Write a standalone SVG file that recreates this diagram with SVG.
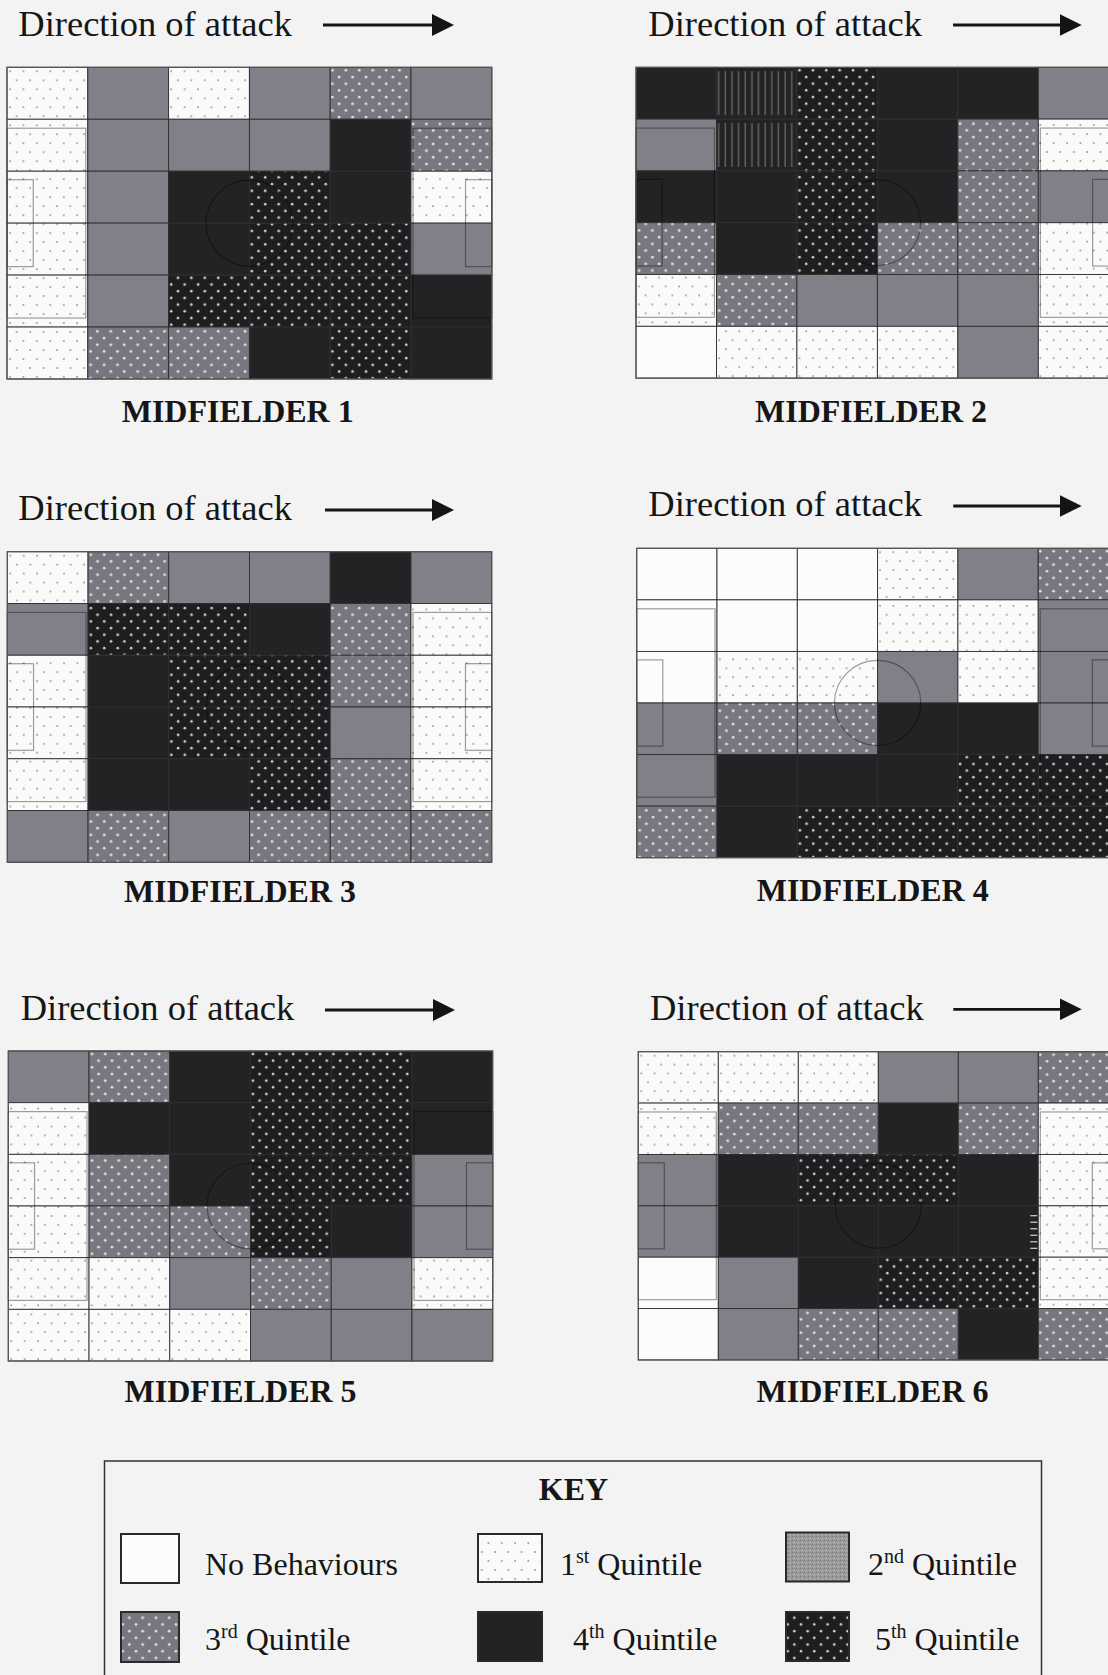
<svg xmlns="http://www.w3.org/2000/svg" width="1108" height="1675" viewBox="0 0 1108 1675">
  <defs>
    <style>
      .title { font-family: "Liberation Serif", "Times New Roman", serif; font-size: 36.5px; fill: #161616; }
      .label { font-family: "Liberation Serif", "Times New Roman", serif; font-size: 32px; font-weight: bold; fill: #161616; }
      .keytxt { font-family: "Liberation Serif", "Times New Roman", serif; font-size: 32px; fill: #161616; }
      .c { stroke: #2e2e2e; stroke-width: 0.9; }
      .n { fill: #fcfcfc; }
      .q1 { fill: url(#p1); }
      .q2 { fill: #808088; }
      .q3 { fill: url(#p3); }
      .q4 { fill: #232325; }
      .q5 { fill: url(#p5); }
      .q5s { fill: url(#p5s); }
      .mk { fill: none; stroke: #000; stroke-opacity: 0.38; stroke-width: 1.2; }
      .edge { fill: none; stroke: #555; stroke-width: 1.2; }
      .arrow { stroke: #141414; stroke-width: 2.8; fill: none; marker-end: url(#head); }
      .sw { stroke: #2a2a2a; stroke-width: 2; }
    </style>
    <!-- 1st quintile: sparse grey dots on white -->
    <pattern id="p1" width="13.3" height="18" patternUnits="userSpaceOnUse">
      <rect width="13.3" height="18" fill="#fafafa"/>
      <circle cx="3" cy="4" r="0.9" fill="#959595"/>
      <circle cx="9.65" cy="13" r="0.9" fill="#959595"/>
    </pattern>
    <!-- 3rd quintile: white dots on grey -->
    <pattern id="p3" width="13.3" height="13.4" patternUnits="userSpaceOnUse">
      <rect width="13.3" height="13.4" fill="#77777f"/>
      <circle cx="3" cy="3" r="1.35" fill="#e2e2e6"/>
      <circle cx="9.65" cy="9.7" r="1.35" fill="#e2e2e6"/>
    </pattern>
    <!-- 5th quintile: white dots on black -->
    <pattern id="p5" width="13.3" height="13.4" patternUnits="userSpaceOnUse">
      <rect width="13.3" height="13.4" fill="#1e1e20"/>
      <circle cx="3" cy="3" r="1.3" fill="#d2d2d2"/>
      <circle cx="9.65" cy="9.7" r="1.3" fill="#d2d2d2"/>
    </pattern>
    <!-- 5th quintile printed with vertical streaks -->
    <pattern id="p5s" width="6.6" height="52" patternUnits="userSpaceOnUse">
      <rect width="6.6" height="52" fill="#232325"/>
      <rect x="2.5" y="4" width="1" height="44" fill="#9a9a9a" opacity="0.75"/>
    </pattern>
    <!-- 2nd quintile key swatch: fine grey grain -->
    <pattern id="p2k" width="4" height="4" patternUnits="userSpaceOnUse">
      <rect width="4" height="4" fill="#9c9c9c"/>
      <rect x="0" y="0" width="1" height="1" fill="#6e6e6e"/>
      <rect x="2" y="2" width="1" height="1" fill="#c4c4c4"/>
      <rect x="3" y="1" width="1" height="1" fill="#808080"/>
    </pattern>
    <linearGradient id="streak" x1="0" y1="0" x2="1" y2="0">
      <stop offset="0" stop-color="#ffffff" stop-opacity="0"/>
      <stop offset="1" stop-color="#e6e6e6" stop-opacity="0.9"/>
    </linearGradient>
    <marker id="head" viewBox="0 0 22 22" refX="10" refY="11" markerWidth="22" markerHeight="22" markerUnits="userSpaceOnUse" orient="auto">
      <path d="M0,0 L22,11 L0,22 z" fill="#141414"/>
    </marker>
    <!-- pitch lines: penalty areas, goal areas, centre circle -->
    <g id="lines">
      <rect x="0" y="61" width="78" height="190"/>
      <rect x="0" y="112.5" width="26" height="87"/>
      <rect x="402" y="61" width="78" height="190"/>
      <rect x="454" y="112.5" width="26" height="87"/>
      <circle cx="240" cy="156" r="43"/>
    </g>
  </defs>

  <rect width="1108" height="1675" fill="#f3f3f3"/>

  <!-- Midfielder 1 -->
  <g id="midfielder-1">
    <text class="title" x="18.3" y="36">Direction of attack</text>
    <g transform="translate(7,67.3) scale(1.01,0.999)">
      <rect class="c q1" x="0" y="0" width="80" height="52"/>
      <rect class="c q2" x="80" y="0" width="80" height="52"/>
      <rect class="c q1" x="160" y="0" width="80" height="52"/>
      <rect class="c q2" x="240" y="0" width="80" height="52"/>
      <rect class="c q3" x="320" y="0" width="80" height="52"/>
      <rect class="c q2" x="400" y="0" width="80" height="52"/>
      <rect class="c q1" x="0" y="52" width="80" height="52"/>
      <rect class="c q2" x="80" y="52" width="80" height="52"/>
      <rect class="c q2" x="160" y="52" width="80" height="52"/>
      <rect class="c q2" x="240" y="52" width="80" height="52"/>
      <rect class="c q4" x="320" y="52" width="80" height="52"/>
      <rect class="c q3" x="400" y="52" width="80" height="52"/>
      <rect class="c q1" x="0" y="104" width="80" height="52"/>
      <rect class="c q2" x="80" y="104" width="80" height="52"/>
      <rect class="c q4" x="160" y="104" width="80" height="52"/>
      <rect class="c q5" x="240" y="104" width="80" height="52"/>
      <rect class="c q4" x="320" y="104" width="80" height="52"/>
      <rect class="c q1" x="400" y="104" width="80" height="52"/>
      <rect class="c q1" x="0" y="156" width="80" height="52"/>
      <rect class="c q2" x="80" y="156" width="80" height="52"/>
      <rect class="c q4" x="160" y="156" width="80" height="52"/>
      <rect class="c q5" x="240" y="156" width="80" height="52"/>
      <rect class="c q5" x="320" y="156" width="80" height="52"/>
      <rect class="c q2" x="400" y="156" width="80" height="52"/>
      <rect class="c q1" x="0" y="208" width="80" height="52"/>
      <rect class="c q2" x="80" y="208" width="80" height="52"/>
      <rect class="c q5" x="160" y="208" width="80" height="52"/>
      <rect class="c q5" x="240" y="208" width="80" height="52"/>
      <rect class="c q5" x="320" y="208" width="80" height="52"/>
      <rect class="c q4" x="400" y="208" width="80" height="52"/>
      <rect class="c q1" x="0" y="260" width="80" height="52"/>
      <rect class="c q3" x="80" y="260" width="80" height="52"/>
      <rect class="c q3" x="160" y="260" width="80" height="52"/>
      <rect class="c q4" x="240" y="260" width="80" height="52"/>
      <rect class="c q5" x="320" y="260" width="80" height="52"/>
      <rect class="c q4" x="400" y="260" width="80" height="52"/>
      <use href="#lines" class="mk"/>
      <rect class="edge" x="0" y="0" width="480" height="312"/>
    </g>
    <text class="label" x="121.7" y="421.7">MIDFIELDER 1</text>
  </g>

  <!-- Midfielder 2 -->
  <g id="midfielder-2">
    <text class="title" x="648.3" y="36">Direction of attack</text>
    <g transform="translate(636,67.3) scale(1.0058,0.9962)">
      <rect class="c q4" x="0" y="0" width="80" height="52"/>
      <rect class="c q5s" x="80" y="0" width="80" height="52"/>
      <rect class="c q5" x="160" y="0" width="80" height="52"/>
      <rect class="c q4" x="240" y="0" width="80" height="52"/>
      <rect class="c q4" x="320" y="0" width="80" height="52"/>
      <rect class="c q2" x="400" y="0" width="80" height="52"/>
      <rect class="c q2" x="0" y="52" width="80" height="52"/>
      <rect class="c q5s" x="80" y="52" width="80" height="52"/>
      <rect class="c q5" x="160" y="52" width="80" height="52"/>
      <rect class="c q4" x="240" y="52" width="80" height="52"/>
      <rect class="c q3" x="320" y="52" width="80" height="52"/>
      <rect class="c q1" x="400" y="52" width="80" height="52"/>
      <rect class="c q4" x="0" y="104" width="80" height="52"/>
      <rect class="c q4" x="80" y="104" width="80" height="52"/>
      <rect class="c q5" x="160" y="104" width="80" height="52"/>
      <rect class="c q4" x="240" y="104" width="80" height="52"/>
      <rect class="c q3" x="320" y="104" width="80" height="52"/>
      <rect class="c q2" x="400" y="104" width="80" height="52"/>
      <rect class="c q3" x="0" y="156" width="80" height="52"/>
      <rect class="c q4" x="80" y="156" width="80" height="52"/>
      <rect class="c q5" x="160" y="156" width="80" height="52"/>
      <rect class="c q3" x="240" y="156" width="80" height="52"/>
      <rect class="c q3" x="320" y="156" width="80" height="52"/>
      <rect class="c q1" x="400" y="156" width="80" height="52"/>
      <rect class="c q1" x="0" y="208" width="80" height="52"/>
      <rect class="c q3" x="80" y="208" width="80" height="52"/>
      <rect class="c q2" x="160" y="208" width="80" height="52"/>
      <rect class="c q2" x="240" y="208" width="80" height="52"/>
      <rect class="c q2" x="320" y="208" width="80" height="52"/>
      <rect class="c q1" x="400" y="208" width="80" height="52"/>
      <rect class="c n" x="0" y="260" width="80" height="52"/>
      <rect class="c q1" x="80" y="260" width="80" height="52"/>
      <rect class="c q1" x="160" y="260" width="80" height="52"/>
      <rect class="c q1" x="240" y="260" width="80" height="52"/>
      <rect class="c q2" x="320" y="260" width="80" height="52"/>
      <rect class="c q1" x="400" y="260" width="80" height="52"/>
      <use href="#lines" class="mk"/>
      <rect class="edge" x="0" y="0" width="480" height="312"/>
    </g>
    <text class="label" x="755" y="421.7">MIDFIELDER 2</text>
  </g>

  <!-- Midfielder 3 -->
  <g id="midfielder-3">
    <text class="title" x="18.3" y="519.5">Direction of attack</text>
    <g transform="translate(7.3,551.7) scale(1.0092,0.9955)">
      <rect class="c q1" x="0" y="0" width="80" height="52"/>
      <rect class="c q3" x="80" y="0" width="80" height="52"/>
      <rect class="c q2" x="160" y="0" width="80" height="52"/>
      <rect class="c q2" x="240" y="0" width="80" height="52"/>
      <rect class="c q4" x="320" y="0" width="80" height="52"/>
      <rect class="c q2" x="400" y="0" width="80" height="52"/>
      <rect class="c q2" x="0" y="52" width="80" height="52"/>
      <rect class="c q5" x="80" y="52" width="80" height="52"/>
      <rect class="c q5" x="160" y="52" width="80" height="52"/>
      <rect class="c q4" x="240" y="52" width="80" height="52"/>
      <rect class="c q3" x="320" y="52" width="80" height="52"/>
      <rect class="c q1" x="400" y="52" width="80" height="52"/>
      <rect class="c q1" x="0" y="104" width="80" height="52"/>
      <rect class="c q4" x="80" y="104" width="80" height="52"/>
      <rect class="c q5" x="160" y="104" width="80" height="52"/>
      <rect class="c q5" x="240" y="104" width="80" height="52"/>
      <rect class="c q3" x="320" y="104" width="80" height="52"/>
      <rect class="c q1" x="400" y="104" width="80" height="52"/>
      <rect class="c q1" x="0" y="156" width="80" height="52"/>
      <rect class="c q4" x="80" y="156" width="80" height="52"/>
      <rect class="c q5" x="160" y="156" width="80" height="52"/>
      <rect class="c q5" x="240" y="156" width="80" height="52"/>
      <rect class="c q2" x="320" y="156" width="80" height="52"/>
      <rect class="c q1" x="400" y="156" width="80" height="52"/>
      <rect class="c q1" x="0" y="208" width="80" height="52"/>
      <rect class="c q4" x="80" y="208" width="80" height="52"/>
      <rect class="c q4" x="160" y="208" width="80" height="52"/>
      <rect class="c q5" x="240" y="208" width="80" height="52"/>
      <rect class="c q3" x="320" y="208" width="80" height="52"/>
      <rect class="c q1" x="400" y="208" width="80" height="52"/>
      <rect class="c q2" x="0" y="260" width="80" height="52"/>
      <rect class="c q3" x="80" y="260" width="80" height="52"/>
      <rect class="c q2" x="160" y="260" width="80" height="52"/>
      <rect class="c q3" x="240" y="260" width="80" height="52"/>
      <rect class="c q3" x="320" y="260" width="80" height="52"/>
      <rect class="c q3" x="400" y="260" width="80" height="52"/>
      <use href="#lines" class="mk"/>
      <rect class="edge" x="0" y="0" width="480" height="312"/>
    </g>
    <text class="label" x="124" y="901.7">MIDFIELDER 3</text>
  </g>

  <!-- Midfielder 4 -->
  <g id="midfielder-4">
    <text class="title" x="648.3" y="516">Direction of attack</text>
    <g transform="translate(636.7,548.3) scale(1.0038,0.9917)">
      <rect class="c n" x="0" y="0" width="80" height="52"/>
      <rect class="c n" x="80" y="0" width="80" height="52"/>
      <rect class="c n" x="160" y="0" width="80" height="52"/>
      <rect class="c q1" x="240" y="0" width="80" height="52"/>
      <rect class="c q2" x="320" y="0" width="80" height="52"/>
      <rect class="c q3" x="400" y="0" width="80" height="52"/>
      <rect class="c n" x="0" y="52" width="80" height="52"/>
      <rect class="c n" x="80" y="52" width="80" height="52"/>
      <rect class="c n" x="160" y="52" width="80" height="52"/>
      <rect class="c q1" x="240" y="52" width="80" height="52"/>
      <rect class="c q1" x="320" y="52" width="80" height="52"/>
      <rect class="c q2" x="400" y="52" width="80" height="52"/>
      <rect class="c n" x="0" y="104" width="80" height="52"/>
      <rect class="c q1" x="80" y="104" width="80" height="52"/>
      <rect class="c q1" x="160" y="104" width="80" height="52"/>
      <rect class="c q2" x="240" y="104" width="80" height="52"/>
      <rect class="c q1" x="320" y="104" width="80" height="52"/>
      <rect class="c q2" x="400" y="104" width="80" height="52"/>
      <rect class="c q2" x="0" y="156" width="80" height="52"/>
      <rect class="c q3" x="80" y="156" width="80" height="52"/>
      <rect class="c q3" x="160" y="156" width="80" height="52"/>
      <rect class="c q4" x="240" y="156" width="80" height="52"/>
      <rect class="c q4" x="320" y="156" width="80" height="52"/>
      <rect class="c q2" x="400" y="156" width="80" height="52"/>
      <rect class="c q2" x="0" y="208" width="80" height="52"/>
      <rect class="c q4" x="80" y="208" width="80" height="52"/>
      <rect class="c q4" x="160" y="208" width="80" height="52"/>
      <rect class="c q4" x="240" y="208" width="80" height="52"/>
      <rect class="c q5" x="320" y="208" width="80" height="52"/>
      <rect class="c q5" x="400" y="208" width="80" height="52"/>
      <rect class="c q3" x="0" y="260" width="80" height="52"/>
      <rect class="c q4" x="80" y="260" width="80" height="52"/>
      <rect class="c q5" x="160" y="260" width="80" height="52"/>
      <rect class="c q5" x="240" y="260" width="80" height="52"/>
      <rect class="c q5" x="320" y="260" width="80" height="52"/>
      <rect class="c q5" x="400" y="260" width="80" height="52"/>
      <use href="#lines" class="mk"/>
      <rect class="edge" x="0" y="0" width="480" height="312"/>
    </g>
    <text class="label" x="756.7" y="900.7">MIDFIELDER 4</text>
  </g>

  <!-- Midfielder 5 -->
  <g id="midfielder-5">
    <text class="title" x="20.7" y="1020">Direction of attack</text>
    <g transform="translate(8.3,1051) scale(1.0092,0.9936)">
      <rect class="c q2" x="0" y="0" width="80" height="52"/>
      <rect class="c q3" x="80" y="0" width="80" height="52"/>
      <rect class="c q4" x="160" y="0" width="80" height="52"/>
      <rect class="c q5" x="240" y="0" width="80" height="52"/>
      <rect class="c q5" x="320" y="0" width="80" height="52"/>
      <rect class="c q4" x="400" y="0" width="80" height="52"/>
      <rect class="c q1" x="0" y="52" width="80" height="52"/>
      <rect class="c q4" x="80" y="52" width="80" height="52"/>
      <rect class="c q4" x="160" y="52" width="80" height="52"/>
      <rect class="c q5" x="240" y="52" width="80" height="52"/>
      <rect class="c q5" x="320" y="52" width="80" height="52"/>
      <rect class="c q4" x="400" y="52" width="80" height="52"/>
      <rect class="c q1" x="0" y="104" width="80" height="52"/>
      <rect class="c q3" x="80" y="104" width="80" height="52"/>
      <rect class="c q4" x="160" y="104" width="80" height="52"/>
      <rect class="c q5" x="240" y="104" width="80" height="52"/>
      <rect class="c q5" x="320" y="104" width="80" height="52"/>
      <rect class="c q2" x="400" y="104" width="80" height="52"/>
      <rect class="c q1" x="0" y="156" width="80" height="52"/>
      <rect class="c q3" x="80" y="156" width="80" height="52"/>
      <rect class="c q3" x="160" y="156" width="80" height="52"/>
      <rect class="c q5" x="240" y="156" width="80" height="52"/>
      <rect class="c q4" x="320" y="156" width="80" height="52"/>
      <rect class="c q2" x="400" y="156" width="80" height="52"/>
      <rect class="c q1" x="0" y="208" width="80" height="52"/>
      <rect class="c q1" x="80" y="208" width="80" height="52"/>
      <rect class="c q2" x="160" y="208" width="80" height="52"/>
      <rect class="c q3" x="240" y="208" width="80" height="52"/>
      <rect class="c q2" x="320" y="208" width="80" height="52"/>
      <rect class="c q1" x="400" y="208" width="80" height="52"/>
      <rect class="c q1" x="0" y="260" width="80" height="52"/>
      <rect class="c q1" x="80" y="260" width="80" height="52"/>
      <rect class="c q1" x="160" y="260" width="80" height="52"/>
      <rect class="c q2" x="240" y="260" width="80" height="52"/>
      <rect class="c q2" x="320" y="260" width="80" height="52"/>
      <rect class="c q2" x="400" y="260" width="80" height="52"/>
      <use href="#lines" class="mk"/>
      <rect class="edge" x="0" y="0" width="480" height="312"/>
    </g>
    <text class="label" x="124.6" y="1402">MIDFIELDER 5</text>
  </g>

  <!-- Midfielder 6 -->
  <g id="midfielder-6">
    <text class="title" x="650" y="1020">Direction of attack</text>
    <g transform="translate(638.3,1051.7) scale(1.0,0.988)">
      <rect class="c q1" x="0" y="0" width="80" height="52"/>
      <rect class="c q1" x="80" y="0" width="80" height="52"/>
      <rect class="c q1" x="160" y="0" width="80" height="52"/>
      <rect class="c q2" x="240" y="0" width="80" height="52"/>
      <rect class="c q2" x="320" y="0" width="80" height="52"/>
      <rect class="c q3" x="400" y="0" width="80" height="52"/>
      <rect class="c q1" x="0" y="52" width="80" height="52"/>
      <rect class="c q3" x="80" y="52" width="80" height="52"/>
      <rect class="c q3" x="160" y="52" width="80" height="52"/>
      <rect class="c q4" x="240" y="52" width="80" height="52"/>
      <rect class="c q3" x="320" y="52" width="80" height="52"/>
      <rect class="c q1" x="400" y="52" width="80" height="52"/>
      <rect class="c q2" x="0" y="104" width="80" height="52"/>
      <rect class="c q4" x="80" y="104" width="80" height="52"/>
      <rect class="c q5" x="160" y="104" width="80" height="52"/>
      <rect class="c q5" x="240" y="104" width="80" height="52"/>
      <rect class="c q4" x="320" y="104" width="80" height="52"/>
      <rect class="c q1" x="400" y="104" width="80" height="52"/>
      <rect class="c q2" x="0" y="156" width="80" height="52"/>
      <rect class="c q4" x="80" y="156" width="80" height="52"/>
      <rect class="c q4" x="160" y="156" width="80" height="52"/>
      <rect class="c q4" x="240" y="156" width="80" height="52"/>
      <rect class="c q4" x="320" y="156" width="80" height="52"/>
      <rect class="c q1" x="400" y="156" width="80" height="52"/>
      <rect class="c n" x="0" y="208" width="80" height="52"/>
      <rect class="c q2" x="80" y="208" width="80" height="52"/>
      <rect class="c q4" x="160" y="208" width="80" height="52"/>
      <rect class="c q5" x="240" y="208" width="80" height="52"/>
      <rect class="c q5" x="320" y="208" width="80" height="52"/>
      <rect class="c q1" x="400" y="208" width="80" height="52"/>
      <rect class="c n" x="0" y="260" width="80" height="52"/>
      <rect class="c q2" x="80" y="260" width="80" height="52"/>
      <rect class="c q3" x="160" y="260" width="80" height="52"/>
      <rect class="c q3" x="240" y="260" width="80" height="52"/>
      <rect class="c q4" x="320" y="260" width="80" height="52"/>
      <rect class="c q3" x="400" y="260" width="80" height="52"/>
      <use href="#lines" class="mk"/>
      <!-- horizontal print streaks at the right of the central block -->
      <g stroke="url(#streak)" stroke-width="1.2">
        <line x1="357" y1="166" x2="388" y2="166"/>
        <line x1="357" y1="172.6" x2="388" y2="172.6"/>
        <line x1="357" y1="179.2" x2="388" y2="179.2"/>
        <line x1="357" y1="185.8" x2="388" y2="185.8"/>
        <line x1="357" y1="192.4" x2="388" y2="192.4"/>
        <line x1="357" y1="199" x2="388" y2="199"/>
      </g>
      <g stroke="#d8d8d8" stroke-width="1.2">
        <line x1="392" y1="166" x2="399" y2="166"/>
        <line x1="392" y1="172.6" x2="399" y2="172.6"/>
        <line x1="392" y1="179.2" x2="399" y2="179.2"/>
        <line x1="392" y1="185.8" x2="399" y2="185.8"/>
        <line x1="392" y1="192.4" x2="399" y2="192.4"/>
        <line x1="392" y1="199" x2="399" y2="199"/>
      </g>
      <rect class="edge" x="0" y="0" width="480" height="312"/>
    </g>
    <text class="label" x="756.5" y="1402">MIDFIELDER 6</text>
  </g>

  <!-- direction arrows -->
  <g id="connectors">
    <line class="arrow" x1="323" y1="25" x2="442" y2="25"/>
    <line class="arrow" x1="953" y1="25" x2="1069.7" y2="25"/>
    <line class="arrow" x1="325" y1="510" x2="442" y2="510"/>
    <line class="arrow" x1="953.3" y1="506" x2="1069.7" y2="506"/>
    <line class="arrow" x1="325" y1="1010" x2="443" y2="1010"/>
    <line class="arrow" x1="953.3" y1="1009.3" x2="1069.7" y2="1009.3"/>
  </g>

  <!-- legend -->
  <g id="key">
    <rect x="104.5" y="1461" width="937" height="240" fill="none" stroke="#333" stroke-width="1.5"/>
    <text class="label" x="573.5" y="1500" text-anchor="middle" font-size="31">KEY</text>

    <rect class="sw" x="121" y="1534" width="58" height="49" fill="#fcfcfc"/>
    <text class="keytxt" x="205" y="1575">No Behaviours</text>

    <rect class="sw" x="478" y="1534" width="64" height="48" fill="url(#p1)"/>
    <text class="keytxt" x="560" y="1575">1<tspan font-size="20" dy="-12">st</tspan><tspan dy="12"> Quintile</tspan></text>

    <rect class="sw" x="786" y="1532.5" width="63" height="49" fill="url(#p2k)"/>
    <text class="keytxt" x="868" y="1575">2<tspan font-size="20" dy="-12">nd</tspan><tspan dy="12"> Quintile</tspan></text>

    <rect class="sw" x="121" y="1612" width="58" height="50" fill="url(#p3)"/>
    <text class="keytxt" x="205" y="1650">3<tspan font-size="20" dy="-12">rd</tspan><tspan dy="12"> Quintile</tspan></text>

    <rect class="sw" x="478" y="1612" width="64" height="49" fill="#232325"/>
    <text class="keytxt" x="573" y="1650">4<tspan font-size="20" dy="-12">th</tspan><tspan dy="12"> Quintile</tspan></text>

    <rect class="sw" x="786" y="1612" width="63" height="49" fill="url(#p5)"/>
    <text class="keytxt" x="875" y="1650">5<tspan font-size="20" dy="-12">th</tspan><tspan dy="12"> Quintile</tspan></text>
  </g>
</svg>
